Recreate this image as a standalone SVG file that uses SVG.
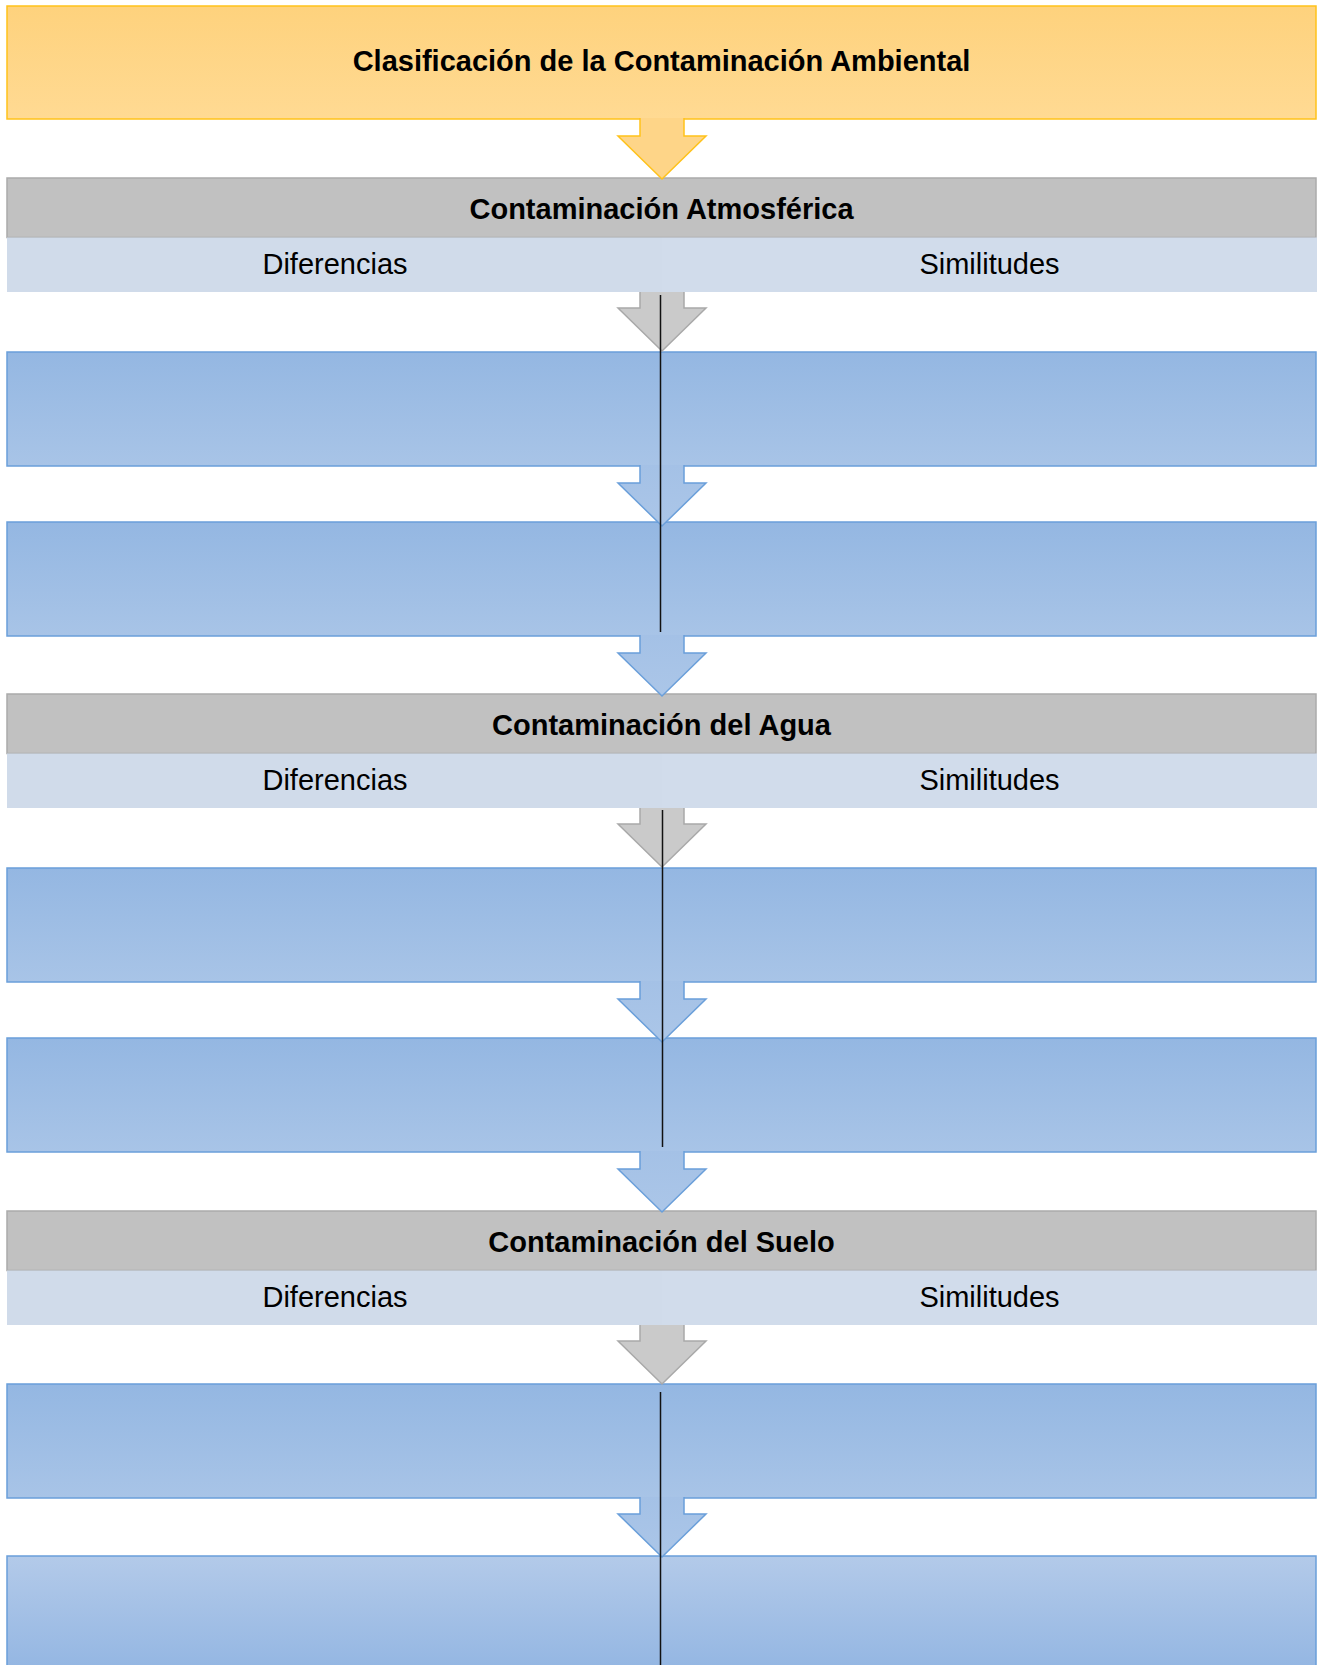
<svg xmlns="http://www.w3.org/2000/svg" width="1320" height="1665" viewBox="0 0 1320 1665">
<defs>
<linearGradient id="gOr" x1="0" y1="0" x2="0" y2="1"><stop offset="0" stop-color="#FED27D"/><stop offset="1" stop-color="#FFDA93"/></linearGradient>
<linearGradient id="gBl" x1="0" y1="0" x2="0" y2="1"><stop offset="0" stop-color="#94B7E2"/><stop offset="1" stop-color="#A8C4E7"/></linearGradient>
<linearGradient id="gBlR" x1="0" y1="0" x2="0" y2="1"><stop offset="0" stop-color="#B3CAE9"/><stop offset="1" stop-color="#92B5E2"/></linearGradient>
<linearGradient id="gAr" x1="0" y1="0" x2="0" y2="1"><stop offset="0" stop-color="#A4C1E6"/><stop offset="1" stop-color="#ABC6E8"/></linearGradient>
</defs>
<style>
.title{font-family:"Liberation Sans",Arial,sans-serif;font-size:29px;font-weight:bold;fill:#000;text-anchor:middle}
.sub{font-family:"Liberation Sans",Arial,sans-serif;font-size:29px;fill:#000;text-anchor:middle}
.grey{fill:#C1C1C1;stroke:#ABABAB;stroke-width:1.5}
.band{fill:#D0DBEA}
.bandR{fill:#D1DCEB}
.blue{fill:url(#gBl);stroke:#6A9FDA;stroke-width:1.5}
.blueR{fill:url(#gBlR);stroke:#6A9FDA;stroke-width:1.5}
.arO{fill:#FED588;stroke:#FFC21A;stroke-width:1.5}
.arG{fill:#CACACA;stroke:#A9A9A9;stroke-width:1.5}
.arB{fill:url(#gAr);stroke:#6A9FDA;stroke-width:1.5}
.vl{stroke:#111;stroke-width:1.5}
</style>
<g id="title-node">
<rect x="7" y="6" width="1309" height="113" fill="url(#gOr)" stroke="#FFC21A" stroke-width="1.5"/>
<text class="title" x="661.5" y="71">Clasificación de la Contaminación Ambiental</text>
</g>
<g id="sec-atmosferica">
<g id="atm-header"><rect class="grey" x="7" y="178" width="1309" height="59.5"/><text class="title" x="661.5" y="218.5">Contaminación Atmosférica</text></g>
<g id="atm-labels"><rect class="band" x="7" y="237.5" width="655" height="54.5"/><rect class="bandR" x="662" y="237.5" width="655" height="54.5"/><text class="sub" x="335" y="274">Diferencias</text><text class="sub" x="989.5" y="274">Similitudes</text></g>
<g id="atm-box1"><rect class="blue" x="7" y="352" width="1309" height="114"/></g>
<g id="atm-box2"><rect class="blue" x="7" y="522" width="1309" height="114"/></g>
</g>
<g id="sec-agua">
<g id="agua-header"><rect class="grey" x="7" y="694" width="1309" height="59.5"/><text class="title" x="661.5" y="734.5">Contaminación del Agua</text></g>
<g id="agua-labels"><rect class="band" x="7" y="753.5" width="655" height="54.5"/><rect class="bandR" x="662" y="753.5" width="655" height="54.5"/><text class="sub" x="335" y="790">Diferencias</text><text class="sub" x="989.5" y="790">Similitudes</text></g>
<g id="agua-box1"><rect class="blue" x="7" y="868" width="1309" height="114"/></g>
<g id="agua-box2"><rect class="blue" x="7" y="1038" width="1309" height="114"/></g>
</g>
<g id="sec-suelo">
<g id="suelo-header"><rect class="grey" x="7" y="1211" width="1309" height="59.5"/><text class="title" x="661.5" y="1251.5">Contaminación del Suelo</text></g>
<g id="suelo-labels"><rect class="band" x="7" y="1270.5" width="655" height="54.5"/><rect class="bandR" x="662" y="1270.5" width="655" height="54.5"/><text class="sub" x="335" y="1307">Diferencias</text><text class="sub" x="989.5" y="1307">Similitudes</text></g>
<g id="suelo-box1"><rect class="blue" x="7" y="1384" width="1309" height="114"/></g>
<g id="suelo-box2"><rect class="blueR" x="7" y="1556" width="1309" height="120"/></g>
</g>
<g id="connectors">
<path class="arO" d="M640,118 V136 H618 L662,179 L706,136 H684 V118"/>
<path class="arG" d="M640,292 V308 H618 L662,351 L706,308 H684 V292"/>
<path class="arB" d="M640,465 V483 H618 L662,526 L706,483 H684 V465"/>
<path class="arB" d="M640,635 V653 H618 L662,696 L706,653 H684 V635"/>
<path class="arG" d="M640,808 V824 H618 L662,867 L706,824 H684 V808"/>
<path class="arB" d="M640,981 V999 H618 L662,1042 L706,999 H684 V981"/>
<path class="arB" d="M640,1151 V1169 H618 L662,1212 L706,1169 H684 V1151"/>
<path class="arG" d="M640,1325 V1341 H618 L662,1384 L706,1341 H684 V1325"/>
<path class="arB" d="M640,1497 V1514 H618 L662,1557 L706,1514 H684 V1497"/>
<line class="vl" x1="660.5" y1="295" x2="660.5" y2="632"/>
<line class="vl" x1="662.5" y1="810" x2="662.5" y2="1147"/>
<line class="vl" x1="660.5" y1="1392" x2="660.5" y2="1665" stroke="#333"/>
</g>
</svg>
